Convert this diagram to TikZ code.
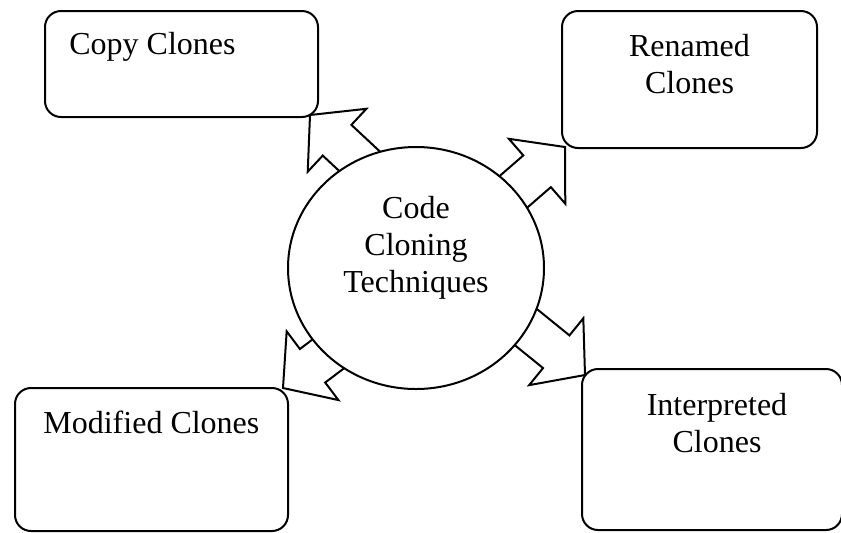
\documentclass[tikz,border=0pt]{standalone}
\usepackage{fontspec}
\setmainfont{Liberation Serif}
\usetikzlibrary{positioning,shapes.geometric}

\tikzset{
  clonebox/.style={draw, line width=1pt, rounded corners=8pt, inner sep=0pt, anchor=north west},
  clonetext/.style={font=\fontsize{16pt}{18.5pt}\selectfont, inner sep=0pt, align=center},
  pics/blockarrow/.style={code={
    \draw[line width=1pt, fill=white, line join=miter]
      (0,0) -- (-37,43) -- (-37,21) -- (-140,21) -- (-140,-21)
      -- (-37,-21) -- (-37,-43) -- cycle;
  }}
}

\begin{document}
\begin{tikzpicture}[x=0.5pt, y=-0.5pt]
  \useasboundingbox (0,0) rectangle (841,532);

  % arrow tips
  \coordinate (tipcopy) at (310,115);
  \coordinate (tiprenamed) at (565,147);
  \coordinate (tipmodified) at (283,388);
  \coordinate (tipinterp) at (585,375);

  \pic[rotate=137] at (tipcopy) {blockarrow};
  \pic[rotate=41] at (tiprenamed) {blockarrow};
  \pic[rotate=-143] at (tipmodified) {blockarrow};
  \pic[rotate=-39] at (tipinterp) {blockarrow};

  % centre
  \node[draw, ellipse, line width=1pt, fill=white, minimum width=128pt,
    minimum height=121pt, inner sep=0pt] (core) at (416,268) {};
  \node[clonetext, anchor=base] (coretext) at ([shift={(0,24)}]core.center)
    {Code\\Cloning\\Techniques};

  % boxes
  \node[clonebox, minimum width=136.5pt, minimum height=53pt] (copy) at (44,10) {};
  \node[clonebox, minimum width=127.5pt, minimum height=68.5pt] (renamed) at (561,10) {};
  \node[clonebox, minimum width=136.5pt, minimum height=71.5pt] (modified) at (14,387) {};
  \node[clonebox, minimum width=130pt, minimum height=80.5pt] (interp) at (581,368) {};

  \node[clonetext, anchor=base west] (copytext) at ([shift={(25,44)}]copy.north west) {Copy Clones};
  \node[clonetext, anchor=base] (renamedtext) at ([shift={(0,83)}]renamed.north) {Renamed\\Clones};
  \node[clonetext, anchor=base west] (modifiedtext) at ([shift={(29,46)}]modified.north west) {Modified Clones};
  \node[clonetext, anchor=base] (interptext) at ([shift={(5,84)}]interp.north) {Interpreted\\Clones};
\end{tikzpicture}
\end{document}
